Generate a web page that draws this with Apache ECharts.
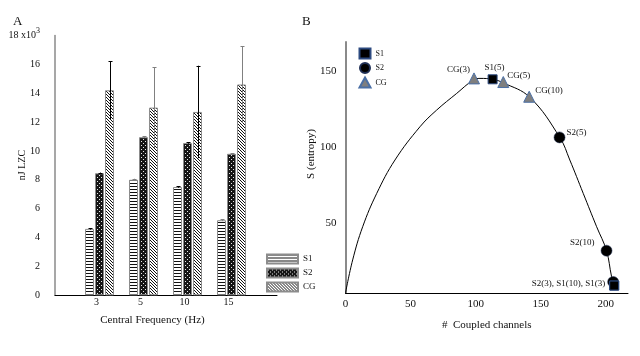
<!DOCTYPE html>
<html><head><meta charset="utf-8">
<script src="https://cdn.jsdelivr.net/npm/echarts@6/dist/echarts.min.js"></script>
<style>html,body{margin:0;padding:0;background:#fff}#c{width:640px;height:356px}</style>
</head><body><div id="c"></div>
<script>
// ---------- Panel A data ----------
const categories = ['3', '5', '10', '15'];
const s1Values = [4.6, 8.0, 7.5, 5.2];
const s2Values = [8.45, 10.95, 10.55, 9.8];
const cgValues = [14.2, 13.0, 12.7, 14.6];
const s1Err = [0.05, 0.07, 0.05, 0.06];
const s2Err = [0.05, 0.05, 0.05, 0.05];
const cgErr = [2.0, 2.8, 3.2, 2.65];
const yTicksA = [0, 2, 4, 6, 8, 10, 12, 14, 16, 18];

// ---------- Panel B data ----------
const curveX = [0, 5.5, 13.2, 24.0, 38.0, 57.2, 70.0, 85.4, 98.1, 103.3, 113.0, 121.2, 141.6, 164.6, 172.3, 182.6, 192.9, 200.5, 204.4, 206.4];
const curveY = [0, 21.8, 43.7, 65.7, 87.7, 109.6, 120.6, 131.6, 140.4, 141.5, 140.9, 138.6, 129.0, 102.6, 87.7, 65.7, 43.7, 27.9, 10.7, 5.3];
const s1X = [113.0, 206.4, 206.4];
const s1Y = [140.9, 4.9, 4.9];
const s1Text = ['S1(5)', '', 'S2(3), S1(10), S1(3)'];
const s2X = [164.4, 200.5, 205.6];
const s2Y = [102.6, 27.9, 7.3];
const s2Text = ['S2(5)', 'S2(10)', ''];
const cgX = [98.7, 121.2, 141.1];
const cgY = [141.5, 139.1, 129.4];
const cgText = ['CG(3)', 'CG(5)', 'CG(10)'];
const xTicksB = [0, 50, 100, 150, 200];
const yTicksB = [50, 100, 150];

const FONT = 'Liberation Serif';
const TXT = '#111';

function pattern(kind) {
  const c = document.createElement('canvas');
  const g = c.getContext('2d');
  if (kind === 'h') {
    c.width = 4; c.height = 3;
    g.fillStyle = '#fff'; g.fillRect(0, 0, 4, 3);
    g.fillStyle = '#111'; g.fillRect(0, 0, 4, 1);
  } else if (kind === 'x') {
    c.width = 4; c.height = 4;
    g.fillStyle = '#161616'; g.fillRect(0, 0, 4, 4);
    g.fillStyle = '#e8e8e8'; g.fillRect(1, 1, 1, 1); g.fillRect(3, 3, 1, 1);
  } else {
    c.width = 3; c.height = 3;
    g.fillStyle = '#fff'; g.fillRect(0, 0, 3, 3);
    g.fillStyle = '#111';
    for (let i = 0; i < 3; i++) g.fillRect(i, i, 1, 1);
  }
  return { image: c, repeat: 'repeat' };
}

const errColors = ['#000', '#808080', '#000', '#808080'];
const errData = [];
[[s1Values, s1Err, -1], [s2Values, s2Err, 0], [cgValues, cgErr, 1]].forEach(([v, e, k]) => {
  v.forEach((val, i) => errData.push([i, val - e[i], val + e[i], k]));
});

function renderErr(params, api) {
  const i = api.value(0);
  const lo = api.coord([i, api.value(1)]);
  const hi = api.coord([i, api.value(2)]);
  const x = Math.round(lo[0] + api.value(3) * 10) + 0.5;
  const col = errColors[i];
  return { type: 'group', children: [
    { type: 'line', shape: { x1: x, y1: lo[1], x2: x, y2: hi[1] }, style: { stroke: col, lineWidth: 1 } },
    { type: 'line', shape: { x1: x - 2, y1: Math.round(hi[1]) + 0.5, x2: x + 2, y2: Math.round(hi[1]) + 0.5 }, style: { stroke: col, lineWidth: 1 } }
  ]};
}

const labelPlace = {
  'CG(3)': ['right', -4, -9],
  'S1(5)': ['center', 2, -12],
  'CG(5)': ['left', 4, -6],
  'CG(10)': ['left', 6, -6],
  'S2(5)': ['left', 7, -5],
  'S2(10)': ['right', -12, -8],
  'S2(3), S1(10), S1(3)': ['right', -9, -2]
};
function pts(xs, ys, texts) {
  return xs.map((x, i) => {
    const t = texts[i];
    const d = { value: [x, ys[i]] };
    if (t) {
      const p = labelPlace[t];
      d.label = { show: true, formatter: t, position: 'inside', align: p[0], verticalAlign: 'middle', offset: [p[1], p[2]] };
    }
    return d;
  });
}

const barBase = { type: 'bar', xAxisIndex: 1, yAxisIndex: 1, barWidth: 9, barGap: '11%' };
const chart = echarts.init(document.getElementById('c'), null, { renderer: 'canvas' });
chart.setOption({
  animation: false,
  textStyle: { fontFamily: FONT, color: TXT },
  grid: [
    { left: 55, top: 35.4, width: 222, height: 259.9 },
    { left: 77.5, top: 35.4, width: 176, height: 259.9 },
    { left: 345.5, top: 42, width: 282.5, height: 251 }
  ],
  xAxis: [
    { gridIndex: 0, type: 'value', min: 0, max: 1, axisLine: { lineStyle: { color: '#000', width: 1 } }, axisTick: { show: false }, axisLabel: { show: false }, splitLine: { show: false } },
    { gridIndex: 1, type: 'category', data: categories, axisLine: { show: false }, axisTick: { show: false },
      axisLabel: { fontSize: 10, fontFamily: FONT, color: TXT, margin: 2, padding: [0, 6, 0, 0] } },
    { gridIndex: 2, type: 'value', min: 0, max: 217, interval: 50,
      axisLine: { lineStyle: { color: '#000', width: 1 } }, axisTick: { show: false }, splitLine: { show: false },
      axisLabel: { fontSize: 11, fontFamily: FONT, color: TXT, margin: 6, showMaxLabel: false,
        formatter: v => xTicksB.includes(v) ? String(v) : '' },
      name: '#  Coupled channels', nameLocation: 'middle', nameGap: 27, nameTextStyle: { fontSize: 11, fontFamily: FONT, color: TXT } }
  ],
  yAxis: [
    { gridIndex: 0, type: 'value', min: 0, max: 18, interval: 2,
      axisLine: { show: true, lineStyle: { color: '#8a8a8a', width: 1.5 } }, axisTick: { show: false }, splitLine: { show: false },
      axisLabel: { fontSize: 10, fontFamily: FONT, color: TXT, margin: 15,
        formatter: v => v === 18 ? '{n|18 x10}{s|3}' : (yTicksA.includes(v) ? String(v) : ''),
        rich: { n: { fontSize: 10, fontFamily: FONT, color: TXT }, s: { fontSize: 8, fontFamily: FONT, color: TXT, padding: [0, 0, 8, 0] } } } },
    { gridIndex: 1, type: 'value', min: 0, max: 18, show: false },
    { gridIndex: 2, type: 'value', min: 0, max: 165.5, interval: 50,
      axisLine: { show: true, lineStyle: { color: '#8a8a8a', width: 2 } }, axisTick: { show: false }, splitLine: { show: false },
      axisLabel: { fontSize: 11, fontFamily: FONT, color: TXT, margin: 9, verticalAlign: 'top', showMaxLabel: false,
        formatter: v => yTicksB.includes(v) ? String(v) : '' } }
  ],
  legend: [
    { orient: 'vertical', left: 261, top: 248.5, itemWidth: 31, itemHeight: 9, itemGap: 3, icon: 'rect',
      textStyle: { fontSize: 9, fontFamily: FONT, color: TXT, lineHeight: 9 }, data: ['S1', 'S2', 'CG'] },
    { orient: 'vertical', left: 353.5, top: 42.5, itemWidth: 11, itemHeight: 10, itemGap: 2.5,
      textStyle: { fontSize: 8, fontFamily: FONT, color: TXT, lineHeight: 10 },
      data: [{ name: 'S1 ', icon: 'rect' }, { name: 'S2 ', icon: 'circle' }, { name: 'CG ', icon: 'triangle' }] }
  ],
  graphic: [
    { type: 'text', left: 13, top: 15, style: { text: 'A', fontSize: 13, fontFamily: FONT, fill: TXT } },
    { type: 'text', left: 302, top: 15, style: { text: 'B', fontSize: 13, fontFamily: FONT, fill: TXT } },
    { type: 'text', x: 152.5, y: 320, style: { text: 'Central Frequency (Hz)', fontSize: 11, fontFamily: FONT, fill: TXT, align: 'center', verticalAlign: 'middle' } },
    { type: 'text', x: 22, y: 165, rotation: Math.PI / 2, style: { text: 'nJ LZC', fontSize: 10, fontFamily: FONT, fill: TXT, align: 'center', verticalAlign: 'middle' } },
    { type: 'text', x: 311, y: 154, rotation: Math.PI / 2, style: { text: 'S (entropy)', fontSize: 11, fontFamily: FONT, fill: TXT, align: 'center', verticalAlign: 'middle' } }
  ],
  series: [
    Object.assign({ name: 'S1', data: s1Values, itemStyle: { color: pattern('h'), borderColor: '#8c8c8c', borderWidth: 1 } }, barBase),
    Object.assign({ name: 'S2', data: s2Values, itemStyle: { color: pattern('x'), borderColor: '#8c8c8c', borderWidth: 1 } }, barBase),
    Object.assign({ name: 'CG', data: cgValues, itemStyle: { color: pattern('d'), borderColor: '#8c8c8c', borderWidth: 1 } }, barBase),
    { type: 'custom', xAxisIndex: 1, yAxisIndex: 1, renderItem: renderErr, data: errData, z: 5, silent: true },
    { type: 'line', name: 'curve', xAxisIndex: 2, yAxisIndex: 2, data: curveX.map((x, i) => [x, curveY[i]]), smooth: 0.4,
      showSymbol: false, symbol: 'none', lineStyle: { color: '#000', width: 1 }, z: 2 },
    { type: 'scatter', name: 'S2 ', xAxisIndex: 2, yAxisIndex: 2, symbol: 'circle', symbolSize: 11, data: pts(s2X, s2Y, s2Text),
      itemStyle: { color: '#000', borderColor: '#1f2f55', borderWidth: 0.5, opacity: 1 }, label: { fontSize: 9, fontFamily: FONT, color: TXT }, z: 3 },
    { type: 'scatter', name: 'S1 ', xAxisIndex: 2, yAxisIndex: 2, symbol: 'rect', symbolSize: 9, data: pts(s1X, s1Y, s1Text),
      itemStyle: { color: '#000', borderColor: '#2d4a80', borderWidth: 1, opacity: 1 }, label: { fontSize: 9, fontFamily: FONT, color: TXT }, z: 4 },
    { type: 'scatter', name: 'CG ', xAxisIndex: 2, yAxisIndex: 2, symbol: 'triangle', symbolSize: 11, data: pts(cgX, cgY, cgText),
      itemStyle: { color: '#7f7f7f', borderColor: '#4a6fa5', borderWidth: 1, opacity: 1 }, label: { fontSize: 9, fontFamily: FONT, color: TXT }, z: 5 }
  ]
});
</script></body></html>
